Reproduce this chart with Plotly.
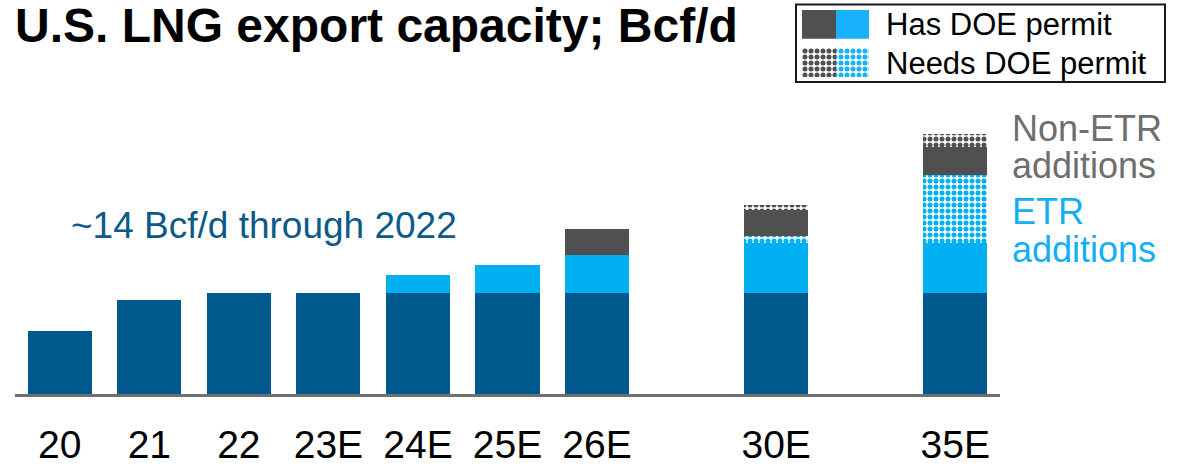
import plotly.graph_objects as go

# U.S. LNG export capacity, Bcf/d
categories = ["20", "21", "22", "23E", "24E", "25E", "26E", "30E", "35E"]
positions = [0, 1, 2, 3, 4, 5, 6, 8, 10]
base_capacity = [8.8, 13.05, 14.0, 14.0, 14.0, 14.0, 14.0, 14.0, 14.0]
etr_has_permit = [0, 0, 0, 0, 2.5, 3.85, 5.3, 7.0, 6.95]
etr_needs_permit = [0, 0, 0, 0, 0, 0, 0, 0.9, 9.5]
non_etr_has_permit = [0, 0, 0, 0, 0, 0, 3.6, 3.7, 3.8]
non_etr_needs_permit = [0, 0, 0, 0, 0, 0, 0, 0.6, 1.85]

W, H = 1191, 465
FONT = "Liberation Sans, Arial, sans-serif"
DARK_BLUE = "#00598C"
LIGHT_BLUE = "#00B0F0"
DARK_GRAY = "#505050"


def px_x(x):
    return x / W


def px_y(y):
    return 1 - y / H


def checker(color):
    return dict(shape=".", fgcolor=color, bgcolor="white", size=6,
                solidity=0.55, fillmode="replace")


fig = go.Figure()
bar_w = 0.715
fig.add_trace(go.Bar(x=positions, y=base_capacity, width=bar_w,
                     marker=dict(color=DARK_BLUE, line=dict(width=0))))
fig.add_trace(go.Bar(x=positions, y=etr_has_permit, width=bar_w,
                     marker=dict(color=LIGHT_BLUE, line=dict(width=0))))
fig.add_trace(go.Bar(x=positions, y=etr_needs_permit, width=bar_w,
                     marker=dict(color=LIGHT_BLUE, line=dict(width=0),
                                 pattern=checker(LIGHT_BLUE))))
fig.add_trace(go.Bar(x=positions, y=non_etr_has_permit, width=bar_w,
                     marker=dict(color=DARK_GRAY, line=dict(width=0))))
fig.add_trace(go.Bar(x=positions, y=non_etr_needs_permit, width=bar_w,
                     marker=dict(color=DARK_GRAY, line=dict(width=0),
                                 pattern=checker(DARK_GRAY))))

# Legend swatches: solid row and checkered row, each gray + blue
swatch_colors = [DARK_GRAY, "#19B2FA"]
for i, color in enumerate(swatch_colors):
    fig.add_trace(go.Bar(x=[i], y=[1], width=1, xaxis="x2", yaxis="y2",
                         marker=dict(color=color, line=dict(width=0)),
                         hoverinfo="skip"))
    fig.add_trace(go.Bar(x=[i], y=[1], width=1, xaxis="x3", yaxis="y3",
                         marker=dict(color=color, line=dict(width=0),
                                     pattern=checker(color)),
                         hoverinfo="skip"))

hidden = dict(visible=False, fixedrange=True, automargin=False)
fig.update_layout(
    width=W, height=H,
    margin=dict(l=0, r=0, t=0, b=0, autoexpand=False),
    paper_bgcolor="white", plot_bgcolor="white",
    barmode="stack", bargap=0,
    showlegend=False,
    font=dict(family=FONT, color="black"),
    xaxis=dict(domain=[px_x(15), px_x(1000)], range=[-0.5, 10.5],
               tickvals=positions, ticktext=categories,
               tickfont=dict(size=39, color="black", family=FONT),
               ticks="outside", ticklen=14, tickcolor="rgba(0,0,0,0)",
               showline=True, linecolor="#707070", linewidth=2.5,
               showgrid=False, zeroline=False, fixedrange=True,
               automargin=False),
    yaxis=dict(domain=[px_y(394), px_y(106)], range=[0, 40], **hidden),
    xaxis2=dict(domain=[px_x(802), px_x(869)], range=[-0.5, 1.5],
                anchor="y2", **hidden),
    yaxis2=dict(domain=[px_y(38.7), px_y(10)], range=[0, 1],
                anchor="x2", **hidden),
    xaxis3=dict(domain=[px_x(802), px_x(869)], range=[-0.5, 1.5],
                anchor="y3", **hidden),
    yaxis3=dict(domain=[px_y(77), px_y(48)], range=[0, 1],
                anchor="x3", **hidden),
)

# Legend frame
fig.add_shape(type="rect", xref="paper", yref="paper",
              x0=px_x(796), x1=px_x(1165), y0=px_y(82), y1=px_y(4.5),
              line=dict(color="#1a1a1a", width=2), fillcolor="rgba(0,0,0,0)")


def text(label, x, y, size, color, xanchor="left", bold=False):
    fig.add_annotation(text=f"<b>{label}</b>" if bold else label,
                       x=px_x(x), y=px_y(y), xref="paper", yref="paper",
                       xanchor=xanchor, yanchor="middle", showarrow=False,
                       borderpad=0,
                       font=dict(size=size, color=color, family=FONT))


text("U.S. LNG export capacity; Bcf/d", 14, 26, 48, "black", bold=True)
text("Has DOE permit", 885, 25, 31, "black")
text("Needs DOE permit", 885, 63.5, 31, "black")
text("~14 Bcf/d through 2022", 70, 225, 37, "#0B5A8A")
text("Non-ETR", 1011, 128, 36, "#6E6E6E")
text("additions", 1011, 165, 36, "#6E6E6E")
text("ETR", 1011, 211, 36, "#14AEF5")
text("additions", 1011, 250, 36, "#14AEF5")

fig.write_html("out.html")
